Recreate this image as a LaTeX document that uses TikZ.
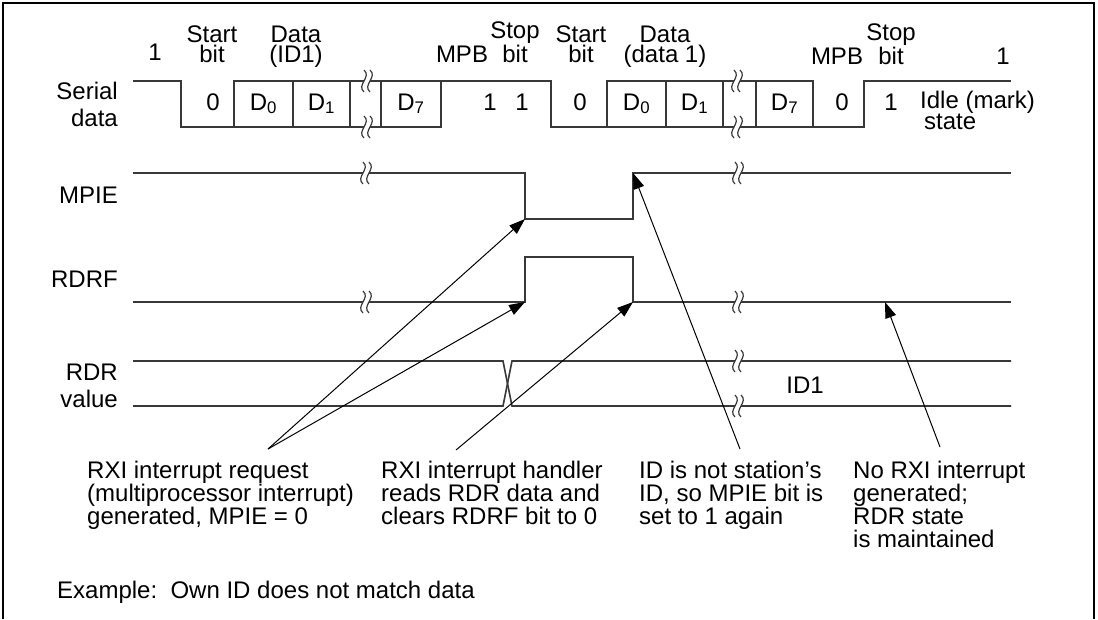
\documentclass[tikz,border=0pt]{standalone}
\usepackage{fontspec}
\setmainfont{Liberation Sans}
\usetikzlibrary{arrows.meta}

\begin{document}
\begin{tikzpicture}[
    x=1pt, y=-1pt,
    wave/.style={draw=black!78, line width=1.6pt},
    brk/.style={draw=black!78, line width=1.2pt},
    pointer/.style={draw=black, line width=1pt, -{Triangle[length=16pt,width=11pt]}},
    lbl/.style={inner sep=0pt, align=center, font=\fontsize{24}{20}\selectfont},
    sig/.style={inner sep=0pt, align=right, font=\fontsize{24}{26.5}\selectfont},
    note/.style={inner sep=0pt, align=left, font=\fontsize{24}{23}\selectfont}
  ]
  \useasboundingbox (0,0) rectangle (1098,619);

  % frame, open at the bottom
  \draw[line width=2pt] (3,619) -- (3,3) -- (1094,3) -- (1094,619);

  %% ---- Serial data ----
  \node[sig, anchor=base east] (serial) at (118,126) {Serial\\data};

  % first frame: start bit, D0, D1 ... D7, MPB = 1, stop bit
  \draw[wave] (133,81) -- (181,81) -- (181,127) -- (234,127);
  \draw[wave] (234,81) rectangle (350,127);
  \draw[wave] (293,81) -- (293,127);
  \draw[wave] (350,81) -- (381,81);
  \draw[wave] (350,127) -- (381,127);
  \draw[wave] (381,81) rectangle (441,127);
  \draw[wave] (441,81) -- (551,81) -- (551,127) -- (607,127);
  % second frame: start bit, D0, D1 ... D7, MPB = 0, stop bit, idle
  \draw[wave] (607,81) rectangle (723,127);
  \draw[wave] (666,81) -- (666,127);
  \draw[wave] (723,81) -- (756,81);
  \draw[wave] (723,127) -- (756,127);
  \draw[wave] (756,81) rectangle (813,127);
  \draw[wave] (813,127) -- (864,127) -- (864,81) -- (1011,81);

  % bit names
  \node[lbl, anchor=base] (idleA) at (155,60) {1};
  \node[lbl, anchor=base] (startA) at (212,62) {Start\\bit};
  \node[lbl, anchor=base] (dataA) at (296,62) {Data\\(ID1)};
  \node[lbl, anchor=base] (mpbA) at (462,62) {MPB};
  \node[lbl, anchor=base] (stopA) at (515,62) {Stop\\bit};
  \node[lbl, anchor=base] (startB) at (581,62) {Start\\bit};
  \node[lbl, anchor=base] (dataB) at (665,62) {Data\\(data 1)};
  \node[lbl, anchor=base] (mpbB) at (837,64) {MPB};
  \node[lbl, anchor=base] (stopB) at (891,64) {Stop\\bit};
  \node[lbl, anchor=base] (idleB) at (1003,64) {1};

  % bit values
  \node[lbl, anchor=base] (vA0) at (213,110) {0};
  \node[lbl, anchor=base] (vA1) at (263.5,110) {D\textsubscript{0}};
  \node[lbl, anchor=base] (vA2) at (321.5,110) {D\textsubscript{1}};
  \node[lbl, anchor=base] (vA3) at (411,110) {D\textsubscript{7}};
  \node[lbl, anchor=base] (vA4) at (490,110) {1};
  \node[lbl, anchor=base] (vA5) at (522,110) {1};
  \node[lbl, anchor=base] (vB0) at (580,110) {0};
  \node[lbl, anchor=base] (vB1) at (636.5,110) {D\textsubscript{0}};
  \node[lbl, anchor=base] (vB2) at (694.5,110) {D\textsubscript{1}};
  \node[lbl, anchor=base] (vB3) at (784.5,110) {D\textsubscript{7}};
  \node[lbl, anchor=base] (vB4) at (842,110) {0};
  \node[lbl, anchor=base] (vB5) at (891,110) {1};
  \node[note, anchor=base west, font=\fontsize{24}{21}\selectfont] (idle) at (920,129) {Idle (mark)\\\,state};

  %% ---- MPIE ----
  \node[sig, anchor=base east] (mpie) at (118,203) {MPIE};
  \draw[wave] (133,173) -- (525,173) -- (525,219) -- (633,219) -- (633,173) -- (1011,173);
  \coordinate (mpieF) at (525,219);
  \coordinate (mpieR) at (633,173);

  %% ---- RDRF ----
  \node[sig, anchor=base east] (rdrf) at (118,287) {RDRF};
  \draw[wave] (133,302) -- (525,302) -- (525,257) -- (633,257) -- (633,302) -- (1011,302);
  \coordinate (rdrfR) at (525,302);
  \coordinate (rdrfF) at (633,302);
  \coordinate (rdrfL) at (885,302);

  %% ---- RDR value ----
  \node[sig, anchor=base east] (rdr) at (118,407) {RDR\\value};
  \draw[wave] (133,361) -- (503,361) -- (512,406) -- (1011,406);
  \draw[wave] (133,406) -- (503,406) -- (512,361) -- (1011,361);
  \node[lbl, anchor=base] (id1) at (805,393) {ID1};

  % break marks
  \foreach \bx/\by in {367/81, 367/127, 737/81, 737/127, 366/173, 366/302,
                       738/173, 738/302, 738/361, 738/406} {
    \fill[white] (\bx-3,\by-11) .. controls (\bx+5,\by-4) and (\bx-11,\by+4) .. (\bx-3,\by+11)
      -- (\bx+3,\by+11) .. controls (\bx-5,\by+4) and (\bx+11,\by-4) .. (\bx+3,\by-11) -- cycle;
    \draw[brk] (\bx-3,\by-11) .. controls (\bx+5,\by-4) and (\bx-11,\by+4) .. (\bx-3,\by+11);
    \draw[brk] (\bx+3,\by-11) .. controls (\bx+11,\by-4) and (\bx-5,\by+4) .. (\bx+3,\by+11);
  }

  %% ---- Notes and pointers ----
  \node[note, anchor=base west] (noteRxi) at (87,524)
    {RXI interrupt request\\(multiprocessor interrupt)\\generated, MPIE = 0};
  \node[note, anchor=base west] (noteRead) at (381,524)
    {RXI interrupt handler\\reads RDR data and\\clears RDRF bit to 0};
  \node[note, anchor=base west] (noteId) at (639,524)
    {ID is not station’s\\ID, so MPIE bit is\\set to 1 again};
  \node[note, anchor=base west] (noteNo) at (853,547)
    {No RXI interrupt\\generated;\\RDR state\\is maintained};

  \coordinate (tRxi) at (268,449);
  \coordinate (tRead) at (456,450);
  \coordinate (tId) at (740,449);
  \coordinate (tNo) at (940,447);

  \draw[pointer] (tRxi) -- (mpieF);
  \draw[pointer] (tRxi) -- (rdrfR);
  \draw[pointer] (tRead) -- (rdrfF);
  \draw[pointer] (tId) -- (mpieR);
  \draw[pointer] (tNo) -- (rdrfL);

  \node[note, anchor=base west] (example) at (57,598) {Example:\ \ Own ID does not match data};

\end{tikzpicture}
\end{document}
